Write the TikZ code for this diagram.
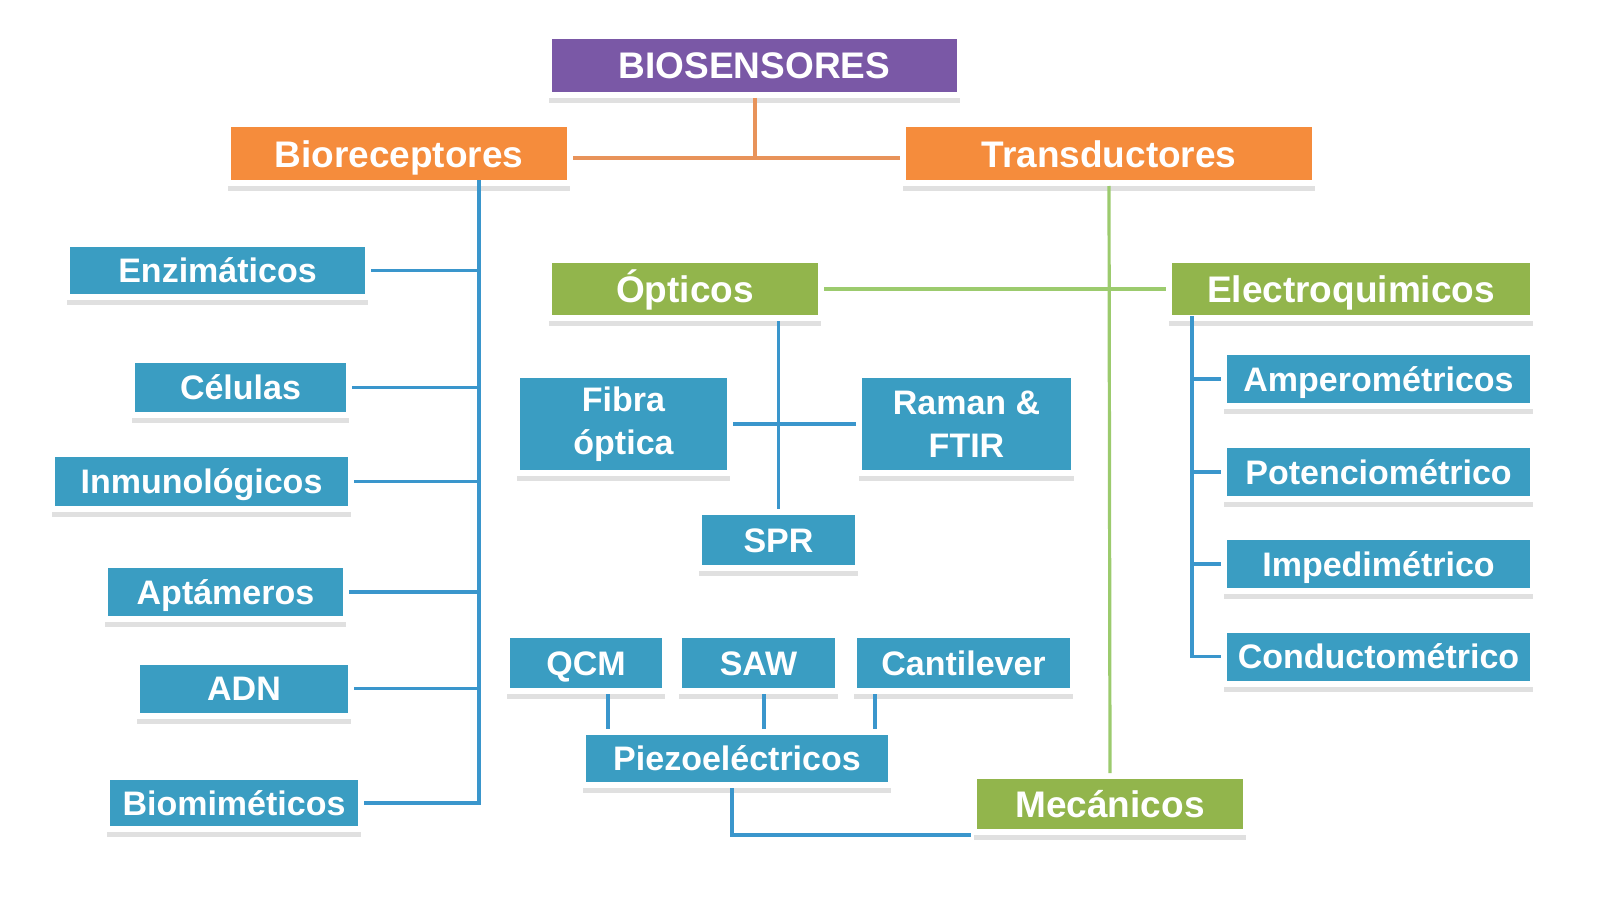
\documentclass[tikz,border=0pt]{standalone}
\usepackage{fontspec}
\setmainfont{Liberation Sans}
\usetikzlibrary{shadows}

\definecolor{bsPurple}{HTML}{7A58A6}
\definecolor{bsOrange}{HTML}{F58C3C}
\definecolor{bsOrangeLine}{HTML}{E8935A}
\definecolor{bsBlue}{HTML}{3A9DC2}
\definecolor{bsBlueLine}{HTML}{3A96CC}
\definecolor{bsGreen}{HTML}{92B54C}
\definecolor{bsGreenLine}{HTML}{9CCB6E}

\tikzset{
  box/.style={draw=white, line width=3pt, inner sep=0pt, text=white, align=center,
    text height=12.4pt, text depth=0pt,
    font=\bfseries\fontsize{17}{21.5}\selectfont,
    drop shadow={shadow xshift=0pt, shadow yshift=-4pt, fill=black, opacity=0.12}},
  twolines/.style={text height=, text depth=},
  sz/.style 2 args={minimum width={#1*0.5pt+3pt}, minimum height={#2*0.5pt+3pt}},
  bigtext/.style={font=\bfseries\fontsize{18.5}{22}\selectfont, text height=13.5pt},
  purplebox/.style={box, bigtext, fill=bsPurple},
  orangebox/.style={box, bigtext, fill=bsOrange},
  greenbox/.style={box, bigtext, fill=bsGreen},
  bluebox/.style={box, fill=bsBlue},
  oline/.style={draw=bsOrangeLine, line width=2pt},
  gline/.style={draw=bsGreenLine, line width=1.6pt},
  bline/.style={draw=bsBlueLine, line width=1.7pt},
}

\begin{document}
\begin{tikzpicture}[x=0.5pt,y=0.5pt,yscale=-1,xscale=1]
\useasboundingbox (0,0) rectangle (1600,904);

% top levels
\node[purplebox, sz={405}{53}] (biosens) at (754.5,65.5) {BIOSENSORES};
\node[orangebox, sz={336}{53}] (biorec) at (399,153.5) {Bioreceptores};
\node[orangebox, sz={406}{53}] (transd) at (1109,153.5) {Transductores};

% bioreceptores
\node[bluebox, sz={295}{47}] (enzim) at (217.5,270.5) {Enzimáticos};
\node[bluebox, sz={211}{49}] (celul) at (240.5,387.5) {Células};
\node[bluebox, sz={293}{49}] (inmuno) at (201.5,481.5) {Inmunológicos};
\node[bluebox, sz={235}{48}] (aptam) at (225.5,592) {Aptámeros};
\node[bluebox, sz={208}{48}] (adn) at (244,688.5) {ADN};
\node[bluebox, sz={248}{46}] (biomim) at (234,803) {Biomiméticos};

% transductores
\node[greenbox, sz={266}{52}] (optic) at (685,289) {Ópticos};
\node[greenbox, sz={358}{52}] (electro) at (1351,289) {Electroquimicos};
\node[greenbox, sz={266}{50}] (mecan) at (1110,804) {Mecánicos};

% opticos
\node[bluebox, twolines, sz={207}{92}] (fibra) at (623.5,424) {Fibra\\óptica};
\node[bluebox, twolines, sz={209}{92}] (raman) at (966.5,424) {Raman \&\\FTIR};
\node[bluebox, sz={153}{50}] (spr) at (778.5,540) {SPR};

% electroquimicos
\node[bluebox, sz={303}{48}] (ampero) at (1378.5,379) {Amperométricos};
\node[bluebox, sz={303}{48}] (potencio) at (1378.5,472) {Potenciométrico};
\node[bluebox, sz={303}{48}] (impedi) at (1378.5,564) {Impedimétrico};
\node[bluebox, sz={303}{48}] (conducto) at (1378.5,656.5) {Conductométrico};

% mecanicos
\node[bluebox, sz={152}{50}] (qcm) at (586,663) {QCM};
\node[bluebox, sz={153}{50}] (saw) at (758.5,663) {SAW};
\node[bluebox, sz={213}{50}] (cantil) at (963.5,663) {Cantilever};
\node[bluebox, sz={302}{47}] (piezo) at (737,758.5) {Piezoeléctricos};

% connectors
\draw[oline] ([yshift=2pt]biorec.east) -- ([yshift=2pt]transd.west);
\draw[oline] (biosens.south) -- ([yshift=2pt]biosens.south |- biorec.east);

\coordinate (rbus) at (479,180);
\draw[bline] (rbus) |- (biomim.east);
\foreach \n in {enzim,celul,inmuno,aptam,adn}
  \draw[bline] (rbus |- \n.east) -- (\n.east);

\draw[gline] (transd.south) -- (mecan.north);
\draw[gline] (optic.east) -- (electro.west);

\draw[bline] (spr.north |- optic.south) -- (spr.north);
\draw[bline] (fibra.east) -- (raman.west);

\coordinate (ebus) at (1192,316);
\draw[bline] (ebus) |- (conducto.west);
\foreach \n in {ampero,potencio,impedi}
  \draw[bline] (ebus |- \n.west) -- (\n.west);

\draw[bline] (608,0 |- qcm.south) -- (608,0 |- piezo.north);
\draw[bline] (764,0 |- saw.south) -- (764,0 |- piezo.north);
\draw[bline] (875,0 |- cantil.south) -- (875,0 |- piezo.north);
\draw[bline] (732,0 |- piezo.south) |- (mecan.south west);

\end{tikzpicture}
\end{document}
